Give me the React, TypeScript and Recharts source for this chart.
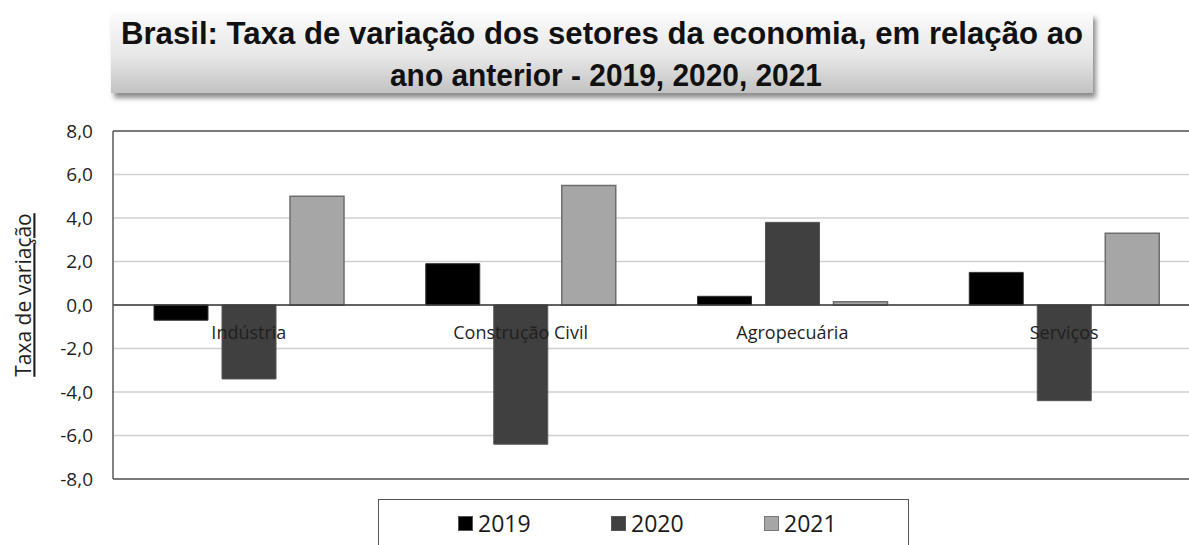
import React from 'react';
import {
  BarChart, Bar, XAxis, YAxis, CartesianGrid, ReferenceLine, Legend,
} from 'recharts';

const categories = ['Indústria', 'Construção Civil', 'Agropecuária', 'Serviços'];
const values2019 = [-0.7, 1.9, 0.4, 1.5];
const values2020 = [-3.4, -6.4, 3.8, -4.4];
const values2021 = [5.0, 5.5, 0.15, 3.3];
const yTicks = [-8, -6, -4, -2, 0, 2, 4, 6, 8];
const seriesNames = ['2019', '2020', '2021'];
const titleLines = [
  'Brasil: Taxa de variação dos setores da economia, em relação ao',
  'ano anterior - 2019, 2020, 2021',
];
const yLabel = 'Taxa de variação';

const data = categories.map((c, i) => ({
  name: c,
  y2019: values2019[i],
  y2020: values2020[i],
  y2021: values2021[i],
}));

const FONT = '"Open Sans", "DejaVu Sans", sans-serif';
const CHART_W = 1230;
const CHART_H = 560;
const PLOT_TOP = 131;
const PLOT_BOTTOM = 479;
const PLOT_H = PLOT_BOTTOM - PLOT_TOP;

const CategoryTick = (props: any) => {
  const { x, y, payload } = props;
  return (
    <text
      x={x}
      y={y - PLOT_H / 2 + 28}
      dy="0.35em"
      textAnchor="middle"
      fontFamily={FONT}
      fontSize={18}
      fill="#1f1f1f"
    >
      {payload.value}
    </text>
  );
};

const YLabelContent = () => (
  <text
    x={24}
    y={295}
    transform="rotate(-90 24 295)"
    dy="0.35em"
    textAnchor="middle"
    fontFamily={FONT}
    fontSize={21}
    fill="#1f1f1f"
    style={{ textDecoration: 'underline' }}
  >
    {yLabel}
  </text>
);

const legendSwatch: Record<string, { fill: string; stroke: string }> = {
  '2019': { fill: '#000000', stroke: '#555555' },
  '2020': { fill: '#404040', stroke: '#555555' },
  '2021': { fill: '#a6a6a6', stroke: '#777777' },
};

const LegendContent = (props: any) => {
  const { payload } = props;
  return (
    <div
      style={{
        boxSizing: 'border-box',
        width: 531,
        height: 61,
        border: '1.5px solid #555',
        background: '#fff',
        position: 'relative',
        fontFamily: FONT,
      }}
    >
      {(payload || []).map((p: any, i: number) => {
        const sw = legendSwatch[p.value] || { fill: p.color, stroke: '#555' };
        return (
          <div
            key={p.value}
            style={{
              position: 'absolute',
              left: 79 + i * 153,
              top: 8,
              display: 'flex',
              alignItems: 'center',
              height: 30,
            }}
          >
            <span
              style={{
                display: 'inline-block',
                width: 15,
                height: 15,
                boxSizing: 'border-box',
                background: sw.fill,
                border: `1px solid ${sw.stroke}`,
                marginRight: 5,
              }}
            />
            <span style={{ fontSize: 23, color: '#1a1a1a', lineHeight: '30px' }}>{p.value}</span>
          </div>
        );
      })}
    </div>
  );
};

export default function App() {
  return (
    <div
      style={{
        position: 'absolute',
        left: 0,
        top: 0,
        width: 1189,
        height: 545,
        overflow: 'hidden',
        background: '#fff',
      }}
    >
      <div
        style={{
          position: 'absolute',
          left: 111,
          top: 13,
          width: 982,
          height: 80,
          background: 'linear-gradient(to bottom, #fbfbfb 0%, #e6e6e6 55%, #c2c2c2 100%)',
          boxShadow: '3px 5px 5px rgba(0,0,0,0.45)',
          zIndex: 2,
        }}
      >
        <svg width={982} height={80} style={{ display: 'block' }}>
          <text
            x={491}
            y={31}
            textAnchor="middle"
            fontFamily='"Liberation Sans", Arial, sans-serif'
            fontWeight="bold"
            fontSize={31}
            fill="#111"
            textLength={962}
            lengthAdjust="spacingAndGlyphs"
          >
            {titleLines[0]}
          </text>
          <text
            x={495}
            y={73}
            textAnchor="middle"
            fontFamily='"Liberation Sans", Arial, sans-serif'
            fontWeight="bold"
            fontSize={31}
            fill="#111"
            textLength={432}
            lengthAdjust="spacingAndGlyphs"
          >
            {titleLines[1]}
          </text>
        </svg>
      </div>
      <div style={{ position: 'absolute', left: 0, top: 0 }}>
        <BarChart
          width={CHART_W}
          height={CHART_H}
          data={data}
          margin={{ top: PLOT_TOP, right: 30, bottom: 19, left: 0 }}
          barSize={54}
          barGap={14}
        >
          <CartesianGrid vertical={false} stroke="#d0d0d0" strokeWidth={1.5} />
          <XAxis
            dataKey="name"
            height={1}
            tickLine={false}
            tickSize={0}
            tickMargin={0}
            axisLine={{ stroke: '#595959', strokeWidth: 1.5 }}
            tick={<CategoryTick />}
            interval={0}
          />
          <YAxis
            width={113}
            domain={[-8, 8]}
            ticks={yTicks}
            interval={0}
            tickLine={false}
            tickSize={0}
            tickMargin={20}
            axisLine={{ stroke: '#595959', strokeWidth: 1.5 }}
            tickFormatter={(v: number) => v.toFixed(1).replace('.', ',')}
            tick={{ fontFamily: FONT, fontSize: 19, fill: '#1f1f1f' }}
            label={<YLabelContent />}
          />
          <ReferenceLine y={8} stroke="#595959" strokeWidth={1.5} />
          <Bar dataKey="y2019" name={seriesNames[0]} fill="#000000" stroke="#333333" strokeWidth={1} isAnimationActive={false} />
          <Bar dataKey="y2020" name={seriesNames[1]} fill="#404040" stroke="#555555" strokeWidth={1} isAnimationActive={false} />
          <Bar dataKey="y2021" name={seriesNames[2]} fill="#a6a6a6" stroke="#6e6e6e" strokeWidth={1.5} isAnimationActive={false} />
          <ReferenceLine y={0} stroke="#3a3a3a" strokeWidth={1.5} />
          <Legend
            content={<LegendContent />}
            verticalAlign="bottom"
            width={531}
            wrapperStyle={{ left: 378, top: 499, bottom: 'auto', width: 531 }}
          />
        </BarChart>
      </div>
    </div>
  );
}
